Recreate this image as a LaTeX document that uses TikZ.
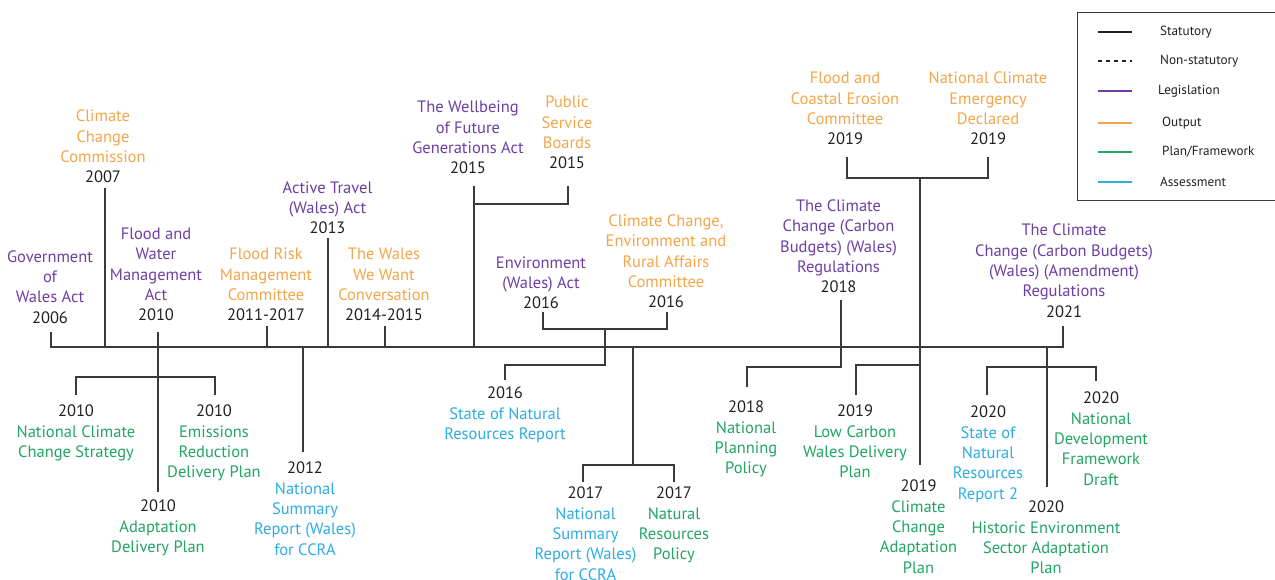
\documentclass[tikz,border=0pt]{standalone}
\usepackage{fontspec}
\setmainfont{PT Sans}
\definecolor{cpurp}{HTML}{6E3FA3}
\definecolor{corange}{HTML}{F4A64A}
\definecolor{cgreen}{HTML}{22A562}
\definecolor{cblue}{HTML}{2EADE3}
\definecolor{cblack}{HTML}{231F20}
\definecolor{cline}{HTML}{3A3A3A}
\newcommand{\yr}[1]{{\color{cblack}#1}}
\tikzset{
  ev/.style={align=center, inner sep=0pt, outer sep=0pt, font=\fontsize{16.5}{20.4}\selectfont},
  evtop/.style={ev, anchor=south},
  evbot/.style={ev, anchor=north},
  legis/.style={text=cpurp},
  outp/.style={text=corange},
  plan/.style={text=cgreen},
  asses/.style={text=cblue},
  conn/.style={draw=cline, line width=1.6pt},
  legline/.style={line width=2.8pt},
  legtext/.style={anchor=west, inner sep=0pt, font=\fontsize{13.2}{15}\selectfont, text=cblack}
}
\begin{document}
\begin{tikzpicture}[x=1pt,y=-1pt]
\clip (0,0) rectangle (1275,579);
\fill[white] (0,0) rectangle (1275,579);

% ---------- top events ----------
\node[evtop,legis] (gov) at (50,323.5) {Government\\of\\Wales Act\\\yr{2006}};
\node[evtop,outp] (ccc) at (103,183) {Climate\\Change\\Commission\\\yr{2007}};
\node[evtop,legis] (fwma) at (156,321) {Flood and\\Water\\Management\\Act\\\yr{2010}};
\node[evtop,outp] (frmc) at (266,321) {Flood Risk\\Management\\Committee\\\yr{2011-2017}};
\node[evtop,legis] (atwa) at (327.5,234) {Active Travel\\(Wales) Act\\\yr{2013}};
\node[evtop,outp] (wwwc) at (384,321) {The Wales\\We Want\\Conversation\\\yr{2014-2015}};
\node[evtop,legis] (wfga) at (468,174) {The Wellbeing\\of Future\\Generations Act\\\yr{2015}};
\node[evtop,outp] (psb) at (567,169) {Public\\Service\\Boards\\\yr{2015}};
\node[evtop,legis] (ewa) at (541,309) {Environment\\(Wales) Act\\\yr{2016}};
\node[evtop,outp] (ccera) at (666,308) {Climate Change,\\Environment and\\Rural Affairs\\Committee\\\yr{2016}};
\node[evtop,legis] (ccbr18) at (838.5,293) {The Climate\\Change (Carbon\\Budgets) (Wales)\\Regulations\\\yr{2018}};
\node[evtop,outp] (fcec) at (845,145) {Flood and\\Coastal Erosion\\Committee\\\yr{2019}};
\node[evtop,outp] (nce) at (988,145) {National Climate\\Emergency\\Declared\\\yr{2019}};
\node[evtop,legis] (ccbr21) at (1064,317.5) {The Climate\\Change (Carbon Budgets)\\(Wales) (Amendment)\\Regulations\\\yr{2021}};

% ---------- bottom events ----------
\node[evbot,plan] (nccs) at (76,405) {\yr{2010}\\National Climate\\Change Strategy};
\node[evbot,plan] (erdp) at (214,405) {\yr{2010}\\Emissions\\Reduction\\Delivery Plan};
\node[evbot,plan] (adp) at (158,500) {\yr{2010}\\Adaptation\\Delivery Plan};
\node[evbot,asses] (nsr12) at (305,462) {\yr{2012}\\National\\Summary\\Report (Wales)\\for CCRA};
\node[evbot,asses] (sonr16) at (505,387) {\yr{2016}\\State of Natural\\Resources Report};
\node[evbot,asses] (nsr17) at (585.5,487) {\yr{2017}\\National\\Summary\\Report (Wales)\\for CCRA};
\node[evbot,plan] (nrp17) at (674,487) {\yr{2017}\\Natural\\Resources\\Policy};
\node[evbot,plan] (npp18) at (746,401) {\yr{2018}\\National\\Planning\\Policy};
\node[evbot,plan] (lcwdp) at (855,405) {\yr{2019}\\Low Carbon\\Wales Delivery\\Plan};
\node[evbot,plan] (ccap) at (918.5,480) {\yr{2019}\\Climate\\Change\\Adaptation\\Plan};
\node[evbot,asses] (sonr20) at (988,406) {\yr{2020}\\State of\\Natural\\Resources\\Report 2};
\node[evbot,plan] (ndf20) at (1101,392) {\yr{2020}\\National\\Development\\Framework\\Draft};
\node[evbot,plan] (hesap) at (1046,501) {\yr{2020}\\Historic Environment\\Sector Adaptation\\Plan};

% ---------- coordinates ----------
\coordinate (tlL) at (51,347);
\coordinate (tlR) at (1063,347);
\coordinate (tGov) at (51,332);
\coordinate (tCcc) at (105,188);
\coordinate (tCccB) at (105,347);
\coordinate (tFw) at (158,332);
\coordinate (bAdp) at (158,492);
\coordinate (tFr) at (267,326);
\coordinate (tFrB) at (267,347);
\coordinate (tAt) at (328,238);
\coordinate (tAtB) at (328,347);
\coordinate (tWw) at (385,326);
\coordinate (tWwB) at (385,347);
\coordinate (tWf) at (474,186);
\coordinate (tWfB) at (474,347);
\coordinate (jWf) at (474,204);
\coordinate (tPs) at (568,186);
\coordinate (jPs) at (568,204);
\coordinate (tEw) at (543,312);
\coordinate (jEw) at (543,329);
\coordinate (tCe) at (667,312);
\coordinate (jCe) at (667,329);
\coordinate (jMid16) at (605,329);
\coordinate (jSo16) at (605,365);
\coordinate (cSo16) at (505,365);
\coordinate (bSo16) at (505,380);
\coordinate (tNs17) at (633,347);
\coordinate (j17) at (633,465);
\coordinate (c17L) at (583,465);
\coordinate (b17L) at (583,482);
\coordinate (c17R) at (674,465);
\coordinate (b17R) at (674,482);
\coordinate (tCb18) at (841,300);
\coordinate (j18) at (841,367);
\coordinate (c18) at (747,367);
\coordinate (b18) at (747,387);
\coordinate (tFc) at (847,157);
\coordinate (jFc) at (847,178);
\coordinate (tNc) at (988,157);
\coordinate (jNc) at (988,178);
\coordinate (j19) at (920,178);
\coordinate (b19) at (920,465);
\coordinate (m19) at (920,365);
\coordinate (c19) at (856,365);
\coordinate (bLc) at (856,395);
\coordinate (tCb21) at (1063,326);
\coordinate (t20) at (1047,347);
\coordinate (b20) at (1047,487);
\coordinate (m20) at (1047,367);
\coordinate (c20L) at (987,367);
\coordinate (b20L) at (987,395);
\coordinate (c20R) at (1096,367);
\coordinate (b20R) at (1096,381);
\coordinate (tNs12) at (303,347);
\coordinate (b12) at (303,452);
\coordinate (m10) at (158,377);
\coordinate (c10L) at (76,377);
\coordinate (b10L) at (76,395);
\coordinate (c10R) at (215,377);
\coordinate (b10R) at (215,395);

% ---------- connectors ----------
\draw[conn] (tGov) -- (tlL) -- (tlR) -- (tCb21);
\draw[conn] (tCcc) -- (tCccB);
\draw[conn] (tFw) -- (bAdp);
\draw[conn] (b10L) -- (c10L) -- (c10R) -- (b10R);
\draw[conn] (tFr) -- (tFrB);
\draw[conn] (tNs12) -- (b12);
\draw[conn] (tAt) -- (tAtB);
\draw[conn] (tWw) -- (tWwB);
\draw[conn] (tWf) -- (tWfB);
\draw[conn] (jWf) -- (jPs) -- (tPs);
\draw[conn] (tEw) -- (jEw) -- (jCe) -- (tCe);
\draw[conn] (jMid16) -- (jSo16) -- (cSo16) -- (bSo16);
\draw[conn] (tNs17) -- (j17);
\draw[conn] (b17L) -- (c17L) -- (c17R) -- (b17R);
\draw[conn] (tCb18) -- (j18) -- (c18) -- (b18);
\draw[conn] (tFc) -- (jFc) -- (jNc) -- (tNc);
\draw[conn] (j19) -- (b19);
\draw[conn] (m19) -- (c19) -- (bLc);
\draw[conn] (t20) -- (b20);
\draw[conn] (b20L) -- (c20L) -- (c20R) -- (b20R);

% ---------- legend ----------
\node[draw=cline, line width=1.2pt, minimum width=198pt, minimum height=188pt, anchor=north west, inner sep=0pt] (legbox) at (1077,12) {};
\coordinate (l1a) at (1098,32);  \coordinate (l1b) at (1132,32);
\coordinate (l2a) at (1098,61);  \coordinate (l2b) at (1132,61);
\coordinate (l3a) at (1098,91);  \coordinate (l3b) at (1132,91);
\coordinate (l4a) at (1098,123); \coordinate (l4b) at (1132,123);
\coordinate (l5a) at (1098,152); \coordinate (l5b) at (1132,152);
\coordinate (l6a) at (1098,182); \coordinate (l6b) at (1132,182);
\draw[legline, cblack] (l1a) -- (l1b);
\draw[legline, cblack, dash pattern=on 3.5pt off 4.5pt] (l2a) -- (l2b);
\draw[legline, cpurp] (l3a) -- (l3b);
\draw[legline, corange] (l4a) -- (l4b);
\draw[legline, cgreen] (l5a) -- (l5b);
\draw[legline, cblue] (l6a) -- (l6b);
\node[legtext] (lt1) at (1160,32) {Statutory};
\node[legtext] (lt2) at (1160,61) {Non-statutory};
\node[legtext] (lt3) at (1158,91) {Legislation};
\node[legtext] (lt4) at (1162,123) {Output};
\node[legtext] (lt5) at (1162,152) {Plan/Framework};
\node[legtext] (lt6) at (1160,182) {Assessment};
\end{tikzpicture}
\end{document}
